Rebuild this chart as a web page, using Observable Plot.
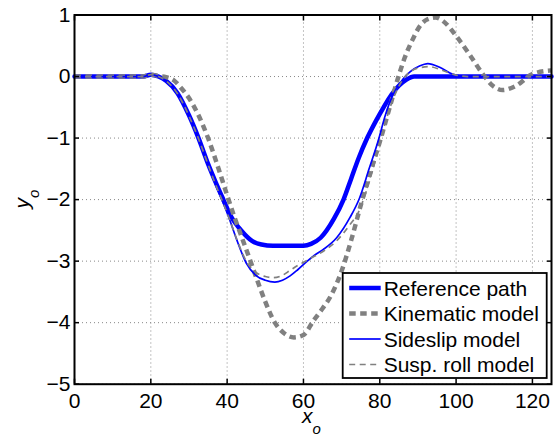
<!DOCTYPE html>
<html><head><meta charset="utf-8">
<script src="https://cdn.jsdelivr.net/npm/d3@7"></script>
<script src="https://cdn.jsdelivr.net/npm/@observablehq/plot@0.6"></script>
<style>
html,body{margin:0;padding:0;background:#fff;}
#chart{width:557px;height:439px;}
svg{overflow:visible;}
</style></head><body><div id="chart"></div>
<script>
// ---- data ----
const xTicks = [0, 20, 40, 60, 80, 100, 120];
const yTicks = [-5, -4, -3, -2, -1, 0, 1];
const seriesNames = ["Reference path", "Kinematic model", "Sideslip model", "Susp. roll model"];

const refX = [0,18,20,22,24,27,30,32.5,35,37,39,41,43.8,46.5,49,52,56,60,62,64.5,68,70.5,72.5,74.5,76.7,79,81,83,85,87,89,95,125];
const refY = [0,0,0.03,0,-0.07,-0.27,-0.63,-1.0,-1.42,-1.72,-2.0,-2.27,-2.51,-2.67,-2.73,-2.75,-2.75,-2.75,-2.72,-2.62,-2.31,-2.0,-1.66,-1.32,-1.0,-0.72,-0.5,-0.3,-0.15,-0.05,0,0,0];

const kinX = [0,18,20,22,24,26,28,30,32.5,35,37.5,40,42,44,46,48,50,52.5,54.7,57.5,60,62.6,65,67.3,70,72.6,75.2,77.7,80.3,82.6,84.8,86.5,88.6,90.5,92.5,94.6,97,100,103.5,107,109.6,112.2,115.7,120,125];
const kinY = [0,0,0.03,0.01,-0.01,-0.06,-0.19,-0.35,-0.63,-1.0,-1.45,-1.93,-2.3,-2.64,-2.98,-3.33,-3.66,-4.0,-4.16,-4.24,-4.2,-3.97,-3.77,-3.55,-3.16,-2.64,-2.05,-1.52,-1.0,-0.5,-0.02,0.3,0.6,0.82,0.93,0.96,0.88,0.66,0.36,0.04,-0.15,-0.22,-0.15,0.04,0.1];

const ssX = [0,18,20,22,24,27,30,32.5,35,37,39,40.5,42.5,45,47.5,50,52.5,54.5,56.5,58.5,61,63,65.2,68.7,72.2,74.6,77.2,79.8,81.2,82.6,84.3,86.1,88,90.4,92.6,95.7,99,102.6,125];
const ssY = [0,0,0.03,0,-0.07,-0.28,-0.64,-1.01,-1.43,-1.76,-2.06,-2.3,-2.65,-3.03,-3.23,-3.31,-3.34,-3.31,-3.24,-3.14,-3.0,-2.9,-2.81,-2.62,-2.29,-1.99,-1.5,-1.0,-0.68,-0.42,-0.2,-0.04,0.08,0.17,0.21,0.15,0.04,0,0];

const srX = [0,18,20,22,24,27,30,32.5,35,37,39,40.5,42.5,45,47.5,50,52,54.5,56.5,58.5,60,62,65.2,68.7,72,74.6,76,78,80,82.6,84.5,86.5,88.5,91,93,96,99.5,103,125];
const srY = [0,0,0.03,0,-0.07,-0.28,-0.64,-1.01,-1.43,-1.76,-2.06,-2.3,-2.64,-3.0,-3.18,-3.25,-3.27,-3.23,-3.15,-3.07,-3.02,-2.95,-2.84,-2.67,-2.42,-2.18,-1.95,-1.55,-1.08,-0.52,-0.22,-0.01,0.1,0.15,0.16,0.11,0.03,0,0];

// ---- styles ----
const colors = ["#0000ff", "#808080", "#0000ff", "#808080"];
const widths = [4.5, 4.5, 1.7, 1.7];
const dashes = [null, "6.5,4.5", null, "6,4.5"];

function rows(xs, ys) { return xs.map((x, i) => ({x, y: ys[i]})); }
const data = [rows(refX, refY), rows(kinX, kinY), rows(ssX, ssY), rows(srX, srY)];
const fmt = (d) => (d < 0 ? "\u2212" + Math.abs(d) : String(d));

const W = 557, H = 439, mL = 74, mR = 6, mT = 14.5, mB = 55.3;
const font = "'Liberation Sans', Arial, Helvetica, sans-serif";

const chart = Plot.plot({
  width: W, height: H,
  marginLeft: mL, marginRight: mR, marginTop: mT, marginBottom: mB,
  style: {fontFamily: font, fontSize: "21px", background: "#fff", color: "#000", overflow: "visible"},
  x: {domain: [0, 125], label: null},
  y: {domain: [-5, 1], label: null},
  marks: [
    Plot.gridX(xTicks, {stroke: "#888", strokeOpacity: 1, strokeWidth: 1, strokeDasharray: "1,3"}),
    Plot.gridY(yTicks, {stroke: "#888", strokeOpacity: 1, strokeWidth: 1, strokeDasharray: "1,3"}),
    ...data.map((d, i) => Plot.line(d, {
      x: "x", y: "y", stroke: colors[i], strokeWidth: widths[i],
      strokeDasharray: dashes[i] || undefined, curve: "monotone-x", strokeLinecap: dashes[i] ? "butt" : "round"
    })),
    Plot.frame({stroke: "#000", strokeWidth: 2}),
    Plot.axisX(xTicks, {anchor: "bottom", tickSize: -5, fill: "none", label: null, strokeWidth: 1.5}),
    Plot.axisX(xTicks, {anchor: "top", tickSize: -5, fill: "none", label: null, strokeWidth: 1.5}),
    Plot.axisY(yTicks, {anchor: "left", tickSize: -5, fill: "none", label: null, strokeWidth: 1.5}),
    Plot.axisY(yTicks, {anchor: "right", tickSize: -5, fill: "none", label: null, strokeWidth: 1.5}),
    Plot.axisX(xTicks, {anchor: "bottom", tickSize: 0, tickPadding: 9, fontSize: 21, label: null, tickFormat: fmt}),
    Plot.axisY(yTicks, {anchor: "left", tickSize: 0, tickPadding: 4, fontSize: 21, label: null, tickFormat: fmt})
  ]
});
document.getElementById("chart").appendChild(chart);

const svg = d3.select(chart);
const cx = (mL + W - mR) / 2, cy = (mT + H - mB) / 2;

// axis labels with subscripts
const xl = svg.append("text").attr("x", cx - 1).attr("y", 423)
  .attr("text-anchor", "middle").attr("font-family", font).attr("font-size", 21).attr("font-style", "italic");
xl.append("tspan").text("x");
xl.append("tspan").attr("font-size", 15).attr("dy", 11).text("o");

const yl = svg.append("text").attr("transform", `translate(29,${cy}) rotate(-90)`)
  .attr("text-anchor", "middle").attr("font-family", font).attr("font-size", 21).attr("font-style", "italic");
yl.append("tspan").text("y");
yl.append("tspan").attr("font-size", 15).attr("dy", 10).text("o");

// legend
const lx = 342.7, ly = 273, lw = 204, lh = 105;
const lg = svg.append("g");
lg.append("rect").attr("x", lx).attr("y", ly).attr("width", lw).attr("height", lh)
  .attr("fill", "#fff").attr("stroke", "#000").attr("stroke-width", 1.8);
seriesNames.forEach((n, i) => {
  const ry = ly + 15 + i * 25.5;
  const ln = lg.append("line").attr("x1", lx + 6.5).attr("x2", lx + 38).attr("y1", ry).attr("y2", ry)
    .attr("stroke", colors[i]).attr("stroke-width", widths[i]);
  if (dashes[i]) ln.attr("stroke-dasharray", dashes[i]);
  lg.append("text").attr("x", lx + 41).attr("y", ry + 7.5).attr("font-family", font)
    .attr("text-anchor", "start").attr("font-size", 21).attr("fill", "#000").text(n);
});
</script></body></html>
